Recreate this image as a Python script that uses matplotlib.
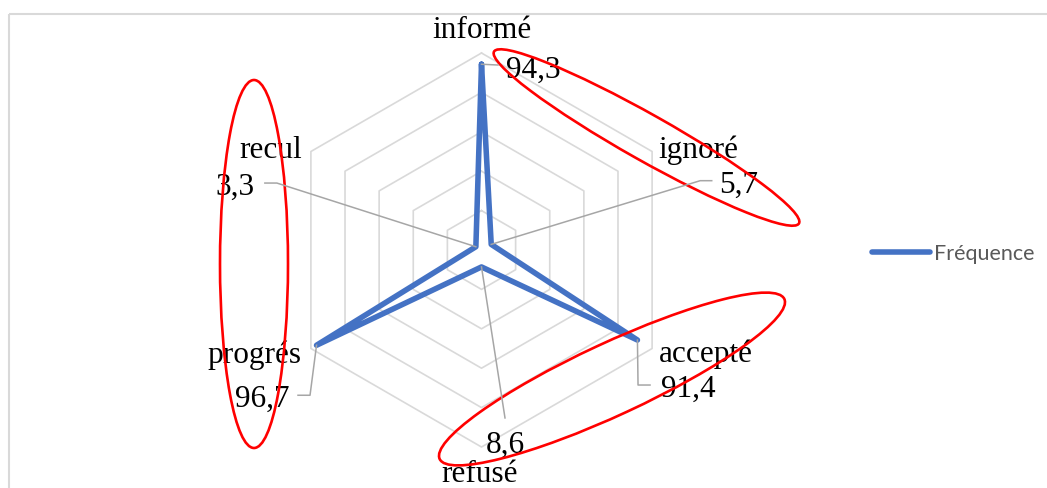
import numpy as np
import matplotlib
matplotlib.use('Agg')
import matplotlib.pyplot as plt
from matplotlib.patches import Ellipse, Rectangle

# data
categories = ['informé', 'ignoré', 'accepté', 'refusé', 'progrés', 'recul']
values = [94.3, 5.7, 91.4, 8.6, 96.7, 3.3]
value_labels = ['94,3', '5,7', '91,4', '8,6', '96,7', '3,3']
grid_levels = [20, 40, 60, 80, 100]
series_name = 'Fréquence'

W, H = 1047, 488
fig = plt.figure(figsize=(W / 100, H / 100), dpi=100)

# radar centre / radius in pixels
cx, cy, R = 481.5, 250, 197
ax = fig.add_axes([(cx - R) / W, (H - cy - R) / H, 2 * R / W, 2 * R / H], projection='polar')
ax.set_theta_zero_location('N')
ax.set_theta_direction(-1)
ax.set_ylim(0, 100)
ax.set_axis_off()

theta = np.linspace(0, 2 * np.pi, len(categories), endpoint=False)
th_closed = np.append(theta, theta[0])

# hexagon grid
for lv in grid_levels:
    ax.plot(th_closed, [lv] * len(th_closed), color='#D9D9D9', lw=1.2, clip_on=False, zorder=1)

line, = ax.plot(th_closed, values + values[:1], color='#4472C4', lw=4.0,
                solid_joinstyle='round', solid_capstyle='round', clip_on=False,
                zorder=3, label=series_name)

serif = 'Liberation Serif'
fs = 22.5

# category labels (offset from outer vertex, px, y down, baseline)
cat_offsets = [(0, -15), (46, 6.5), (54, 13.5), (-1.5, 35), (-56, 14.5), (-40, 6.5)]
for th, name, (dx, dy) in zip(theta, categories, cat_offsets):
    ax.annotate(name, xy=(th, 100), xytext=(dx, -dy), textcoords='offset pixels',
                ha='center', va='baseline', fontsize=fs, family=serif,
                annotation_clip=False)

# data labels (offset from data point, px, y down, baseline)
lab_offsets = [(51.5, 13.8), (247, -51.4), (50.6, 57), (23.5, 186), (-54.5, 61.7), (-241, -51.7)]
for th, v, lbl, (dx, dy) in zip(theta, values, value_labels, lab_offsets):
    ax.annotate(lbl, xy=(th, v), xytext=(dx, -dy), textcoords='offset pixels',
                ha='center', va='baseline', fontsize=fs, family=serif,
                annotation_clip=False)

# overlay in pixel coords (y down) for leaders, frame and red ellipses
ov = fig.add_axes([0, 0, 1, 1])
ov.set_xlim(0, W)
ov.set_ylim(H, 0)
ov.set_axis_off()

leaders = [
    [(0, 0), (16.5, 0.8)],
    [(0, 0), (209, -63.7), (220.5, -63.7)],
    [(0, 0), (0.6, 45), (12.6, 45)],
    [(0, 0), (23.5, 151)],
    [(0, 0), (-6.5, 50), (-18.5, 50)],
    [(0, 0), (-199, -63.7), (-211, -63.7)],
]
for th, v, pts in zip(theta, values, leaders):
    xd, yd = ax.transData.transform((th, v))
    px, py = xd, H - yd
    xs = [px + p[0] for p in pts]
    ys = [py + p[1] for p in pts]
    ov.plot(xs, ys, color='#A6A6A6', lw=1.1, zorder=2)

ov.add_patch(Rectangle((9, 14), 1100, 500, fill=False, ec='#D9D9D9', lw=1.5))

ov.add_patch(Ellipse((646.5, 137.5), 350, 46, angle=29.4, fill=False, ec='#FF0000', lw=1.9))
ov.add_patch(Ellipse((254, 264), 68, 368, angle=0, fill=False, ec='#FF0000', lw=1.9))
ov.add_patch(Ellipse((612, 379), 380, 72, angle=-24.9, fill=False, ec='#FF0000', lw=1.9))

fig.legend(handles=[line], labels=[series_name], loc='center left',
           bbox_to_anchor=(872 / W, 1 - 254 / H), frameon=False, borderpad=0,
           borderaxespad=0, handlelength=2.7, handletextpad=0.2,
           prop={'family': 'Lato', 'size': 15.5}, labelcolor='#595959')

fig.savefig('out.png', dpi=100)
